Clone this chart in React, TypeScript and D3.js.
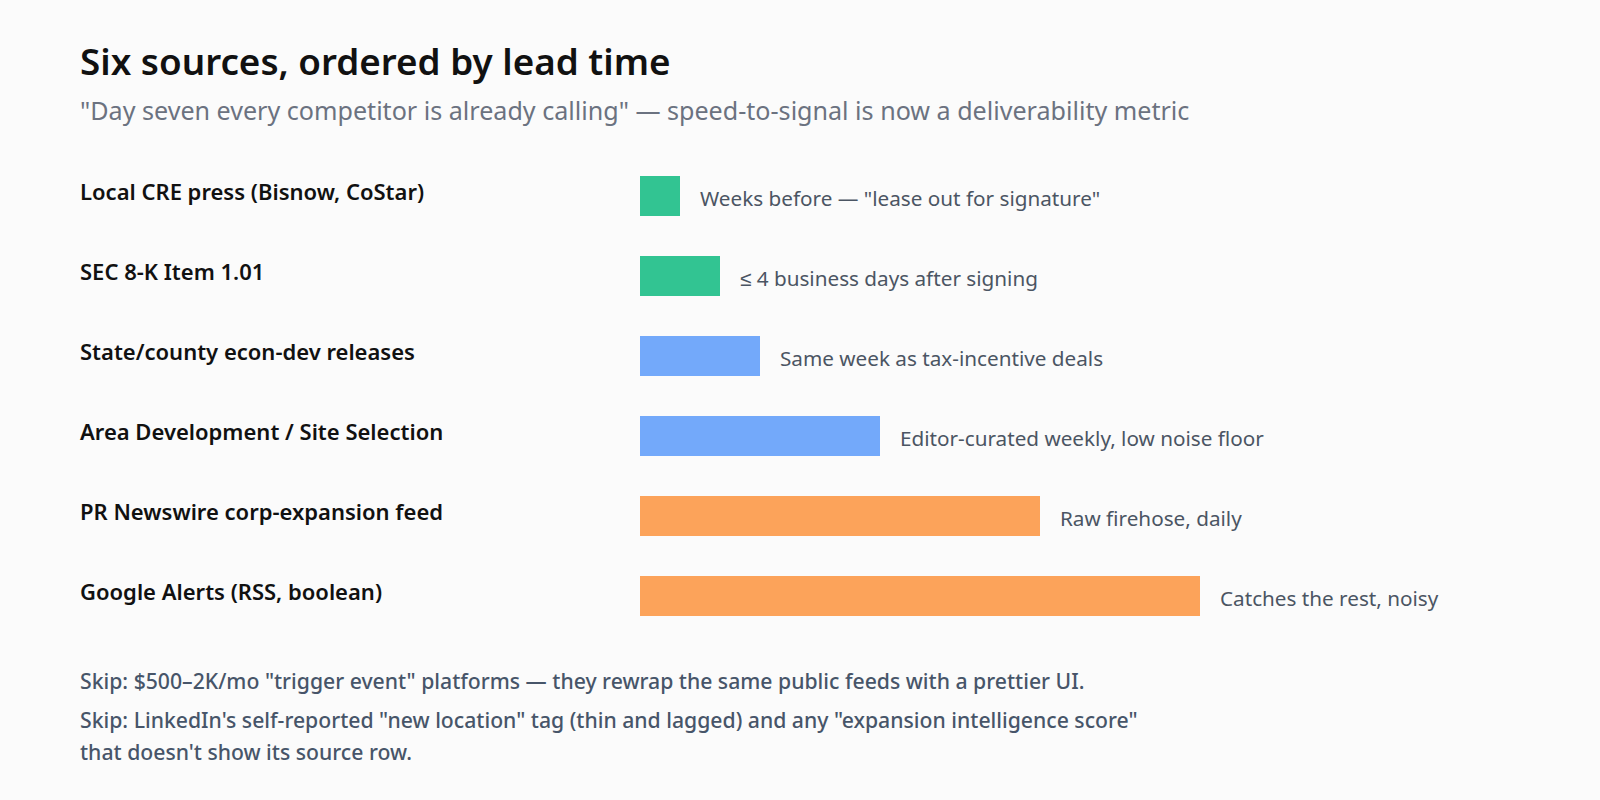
import React, { useEffect } from "react";
import * as d3 from "d3";

const sources = [
  "Local CRE press (Bisnow, CoStar)",
  "SEC 8-K Item 1.01",
  "State/county econ-dev releases",
  "Area Development / Site Selection",
  "PR Newswire corp-expansion feed",
  "Google Alerts (RSS, boolean)",
];
const leadValues = [1, 2, 3, 6, 10, 14];
const tiers = ["early", "early", "mid", "mid", "late", "late"];
const notes = [
  "Weeks before — \"lease out for signature\"",
  "≤ 4 business days after signing",
  "Same week as tax-incentive deals",
  "Editor-curated weekly, low noise floor",
  "Raw firehose, daily",
  "Catches the rest, noisy",
];
const title = "Six sources, ordered by lead time";
const subtitle = "\"Day seven every competitor is already calling\" — speed-to-signal is now a deliverability metric";
const footLines = [
  "Skip: $500–2K/mo \"trigger event\" platforms — they rewrap the same public feeds with a prettier UI.",
  "Skip: LinkedIn's self-reported \"new location\" tag (thin and lagged) and any \"expansion intelligence score\"",
  "that doesn't show its source row.",
];

const W = 1600;
const H = 800;
const FONT = "'Noto Sans', sans-serif";

export default function App() {
  useEffect(() => {
    document.body.style.margin = "0";
    document.body.style.background = "#fbfbfb";
  }, []);

  const x = d3.scaleLinear().domain([0, 14]).range([0, 560]);
  const y = d3.scaleBand<number>().domain(d3.range(sources.length)).range([156, 636]).paddingInner(0.5).paddingOuter(0.25);
  const color = d3.scaleOrdinal<string, string>().domain(["early", "mid", "late"]).range(["#32c492", "#73a9fa", "#fca35a"]);
  const barX = 640;
  const bw = y.bandwidth();

  return (
    <svg width={W} height={H} style={{ display: "block", background: "#fbfbfb" }}>
      <rect x={0} y={0} width={W} height={H} fill="#fbfbfb" />
      <text x={80} y={75} fontFamily={FONT} fontSize={36.8} fontWeight={600} fill="#111111">{title}</text>
      <text x={80} y={120} fontFamily={FONT} fontSize={25.1} fill="#6b7280">{subtitle}</text>
      {sources.map((s, i) => {
        const top = y(i)!;
        const w = x(leadValues[i]);
        return (
          <g key={i}>
            <text x={80} y={top + 24} fontFamily={FONT} fontSize={22} fontWeight={600} fill="#111111">{s}</text>
            <rect x={barX} y={top} width={w} height={bw} fill={color(tiers[i])} />
            <text x={barX + w + 20} y={top + bw / 2 + 9.5} fontFamily={FONT} fontSize={20.7} fill="#4b5563">{notes[i]}</text>
          </g>
        );
      })}
      <text x={80} y={689} fontFamily={FONT} fontSize={21.2} fontWeight={500} fill="#475569">{footLines[0]}</text>
      <text x={80} y={728} fontFamily={FONT} fontSize={21.2} fontWeight={500} fill="#475569">{footLines[1]}</text>
      <text x={80} y={760} fontFamily={FONT} fontSize={21.2} fontWeight={500} fill="#475569">{footLines[2]}</text>
    </svg>
  );
}
